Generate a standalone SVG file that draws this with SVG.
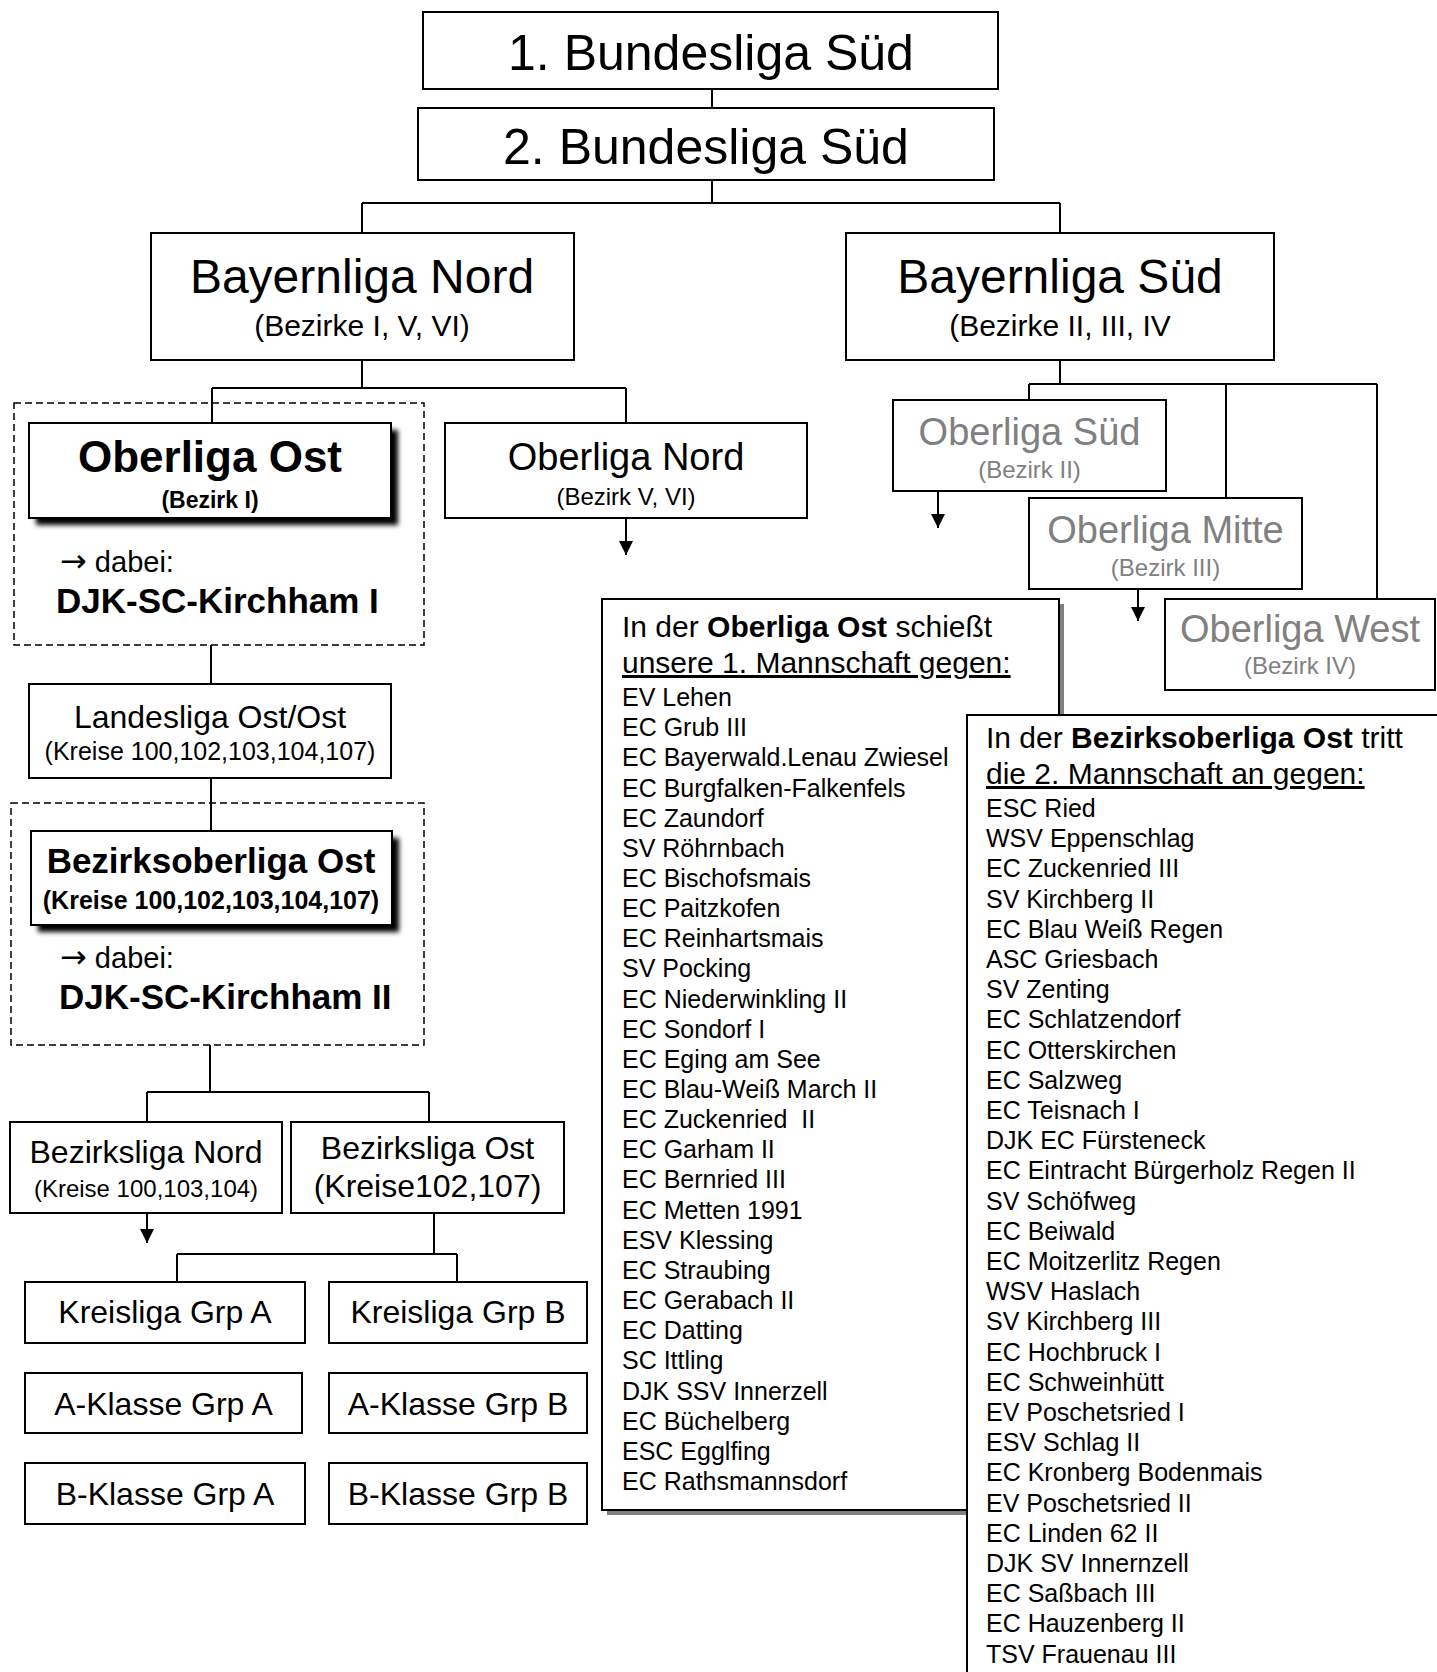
<svg xmlns="http://www.w3.org/2000/svg" width="1437" height="1672" viewBox="0 0 1437 1672">
<defs>
<style>
text { font-family: "Liberation Sans", Arial, sans-serif; fill: #000; }
.c { text-anchor: middle; }
.b { font-weight: bold; }
.g { fill: #808080; }
.ar { font-family: "DejaVu Sans", sans-serif; font-size: 32px; }
.box { fill: #fff; stroke: #000; stroke-width: 2; }
.dash { fill: none; stroke: #000; stroke-width: 1.5; stroke-dasharray: 7 4; }
.ln { fill: none; stroke: #000; stroke-width: 2; }
.shd { fill: #000; filter: url(#blur); }
.gshd { fill: #808080; }
.h1 { font-size: 50px; }
.h2 { font-size: 48px; }
.s30 { font-size: 30px; }
.s38 { font-size: 38px; }
.s32 { font-size: 32px; }
.s25 { font-size: 25px; }
.s24 { font-size: 24px; }
.li { font-size: 25px; }
</style>
<filter id="blur" x="-10%" y="-20%" width="120%" height="140%">
<feGaussianBlur stdDeviation="2.5"/>
</filter>
<marker id="arr" markerUnits="userSpaceOnUse" markerWidth="14" markerHeight="14" refX="14" refY="7" orient="auto" viewBox="0 0 14 14">
<path d="M0,0 L14,7 L0,14 z" fill="#000"/>
</marker>
</defs>
<rect width="1437" height="1672" fill="#fff"/>

<g id="connectors">
<path class="ln" d="M712,89 V108"/>
<path class="ln" d="M712,180 V203 M362,203 H1060 M362,203 V233 M1060,203 V233"/>
<path class="ln" d="M362,360 V388 M212,388 H626 M212,388 V423 M626,388 V423"/>
<path class="ln" d="M626,518 V555" marker-end="url(#arr)"/>
<path class="ln" d="M1060,360 V384 M1029,384 H1377 M1029,384 V400 M1226,384 V498 M1377,384 V599"/>
<path class="ln" d="M938,491 V528" marker-end="url(#arr)"/>
<path class="ln" d="M1138,589 V621" marker-end="url(#arr)"/>
<path class="ln" d="M211,645 V684 M211,778 V831"/>
<path class="ln" d="M210,1045 V1092 M147,1092 H429 M147,1092 V1122 M429,1092 V1122"/>
<path class="ln" d="M147,1213 V1243" marker-end="url(#arr)"/>
<path class="ln" d="M434,1213 V1254 M177,1254 H457 M177,1254 V1282 M457,1254 V1282"/>
</g>

<g id="bundesliga1">
<rect class="box" x="423" y="12" width="575" height="77"/>
<text class="c h1" x="711" y="70">1. Bundesliga Süd</text>
</g>
<g id="bundesliga2">
<rect class="box" x="418" y="108" width="576" height="72"/>
<text class="c h1" x="706" y="164">2. Bundesliga Süd</text>
</g>

<g id="bayernliga-nord">
<rect class="box" x="151" y="233" width="423" height="127"/>
<text class="c h2" x="362" y="293">Bayernliga Nord</text>
<text class="c s30" x="362" y="336">(Bezirke I, V, VI)</text>
</g>
<g id="bayernliga-sued">
<rect class="box" x="846" y="233" width="428" height="127"/>
<text class="c h2" x="1060" y="293">Bayernliga Süd</text>
<text class="c s30" x="1060" y="336">(Bezirke II, III, IV</text>
</g>

<g id="oberliga-ost">
<rect class="dash" x="14" y="403" width="410" height="242"/>
<rect class="shd" x="36" y="430" width="362" height="95"/>
<rect class="box" x="29" y="423" width="362" height="95"/>
<text class="c b" x="210" y="472" font-size="44">Oberliga Ost</text>
<text class="c b" x="210" y="508" font-size="23">(Bezirk I)</text>
<text x="60" y="572" font-size="29"><tspan class="ar">→</tspan> dabei:</text>
<text class="b" x="56" y="613" font-size="35">DJK-SC-Kirchham I</text>
</g>

<g id="oberliga-nord">
<rect class="box" x="445" y="423" width="362" height="95"/>
<text class="c s38" x="626" y="470">Oberliga Nord</text>
<text class="c s24" x="626" y="505">(Bezirk V, VI)</text>
</g>

<g id="oberliga-sued">
<rect class="box" x="893" y="400" width="273" height="91"/>
<text class="c s38 g" x="1029.5" y="445">Oberliga Süd</text>
<text class="c s24 g" x="1029.5" y="478">(Bezirk II)</text>
</g>
<g id="oberliga-mitte">
<rect class="box" x="1029" y="498" width="273" height="91"/>
<text class="c s38 g" x="1165.5" y="543">Oberliga Mitte</text>
<text class="c s24 g" x="1165.5" y="576">(Bezirk III)</text>
</g>
<g id="oberliga-west">
<rect class="box" x="1165" y="599" width="270" height="91"/>
<text class="c s38 g" x="1300" y="642">Oberliga West</text>
<text class="c s24 g" x="1300" y="674">(Bezirk IV)</text>
</g>

<g id="landesliga">
<rect class="box" x="29" y="684" width="362" height="94"/>
<text class="c s32" x="210" y="728">Landesliga Ost/Ost</text>
<text class="c s25" x="210" y="760">(Kreise 100,102,103,104,107)</text>
</g>

<g id="bezirksoberliga-ost">
<rect class="dash" x="11" y="803" width="413" height="242"/>
<rect class="shd" x="38" y="838" width="361" height="94"/>
<rect class="box" x="31" y="831" width="361" height="94"/>
<text class="c b" x="211" y="873" font-size="35">Bezirksoberliga Ost</text>
<text class="c b" x="211" y="909" font-size="25">(Kreise 100,102,103,104,107)</text>
<text x="60" y="968" font-size="29"><tspan class="ar">→</tspan> dabei:</text>
<text class="b" x="59" y="1009" font-size="35">DJK-SC-Kirchham II</text>
</g>

<g id="bezirksliga-nord">
<rect class="box" x="10" y="1122" width="272" height="91"/>
<text class="c s32" x="146" y="1163">Bezirksliga Nord</text>
<text class="c s24" x="146" y="1197">(Kreise 100,103,104)</text>
</g>
<g id="bezirksliga-ost">
<rect class="box" x="291" y="1122" width="273" height="91"/>
<text class="c s32" x="427.5" y="1159">Bezirksliga Ost</text>
<text class="c s32" x="427.5" y="1197">(Kreise102,107)</text>
</g>

<g id="kreisliga-a"><rect class="box" x="25" y="1282" width="280" height="61"/><text class="c s32" x="165" y="1323">Kreisliga Grp A</text></g>
<g id="kreisliga-b"><rect class="box" x="329" y="1282" width="258" height="61"/><text class="c s32" x="458" y="1323">Kreisliga Grp B</text></g>
<g id="aklasse-a"><rect class="box" x="25" y="1373" width="277" height="60"/><text class="c s32" x="163.5" y="1415">A-Klasse Grp A</text></g>
<g id="aklasse-b"><rect class="box" x="329" y="1373" width="258" height="60"/><text class="c s32" x="458" y="1415">A-Klasse Grp B</text></g>
<g id="bklasse-a"><rect class="box" x="25" y="1463" width="280" height="61"/><text class="c s32" x="165" y="1505">B-Klasse Grp A</text></g>
<g id="bklasse-b"><rect class="box" x="329" y="1463" width="258" height="61"/><text class="c s32" x="458" y="1505">B-Klasse Grp B</text></g>

<g id="liste-oberliga">
<rect class="gshd" x="607" y="604" width="457" height="911"/>
<rect class="box" x="602" y="599" width="457" height="911"/>
<text class="s30" x="622" y="637">In der <tspan class="b">Oberliga Ost</tspan> schießt</text>
<text class="s30" x="622" y="673" text-decoration="underline">unsere 1. Mannschaft gegen:</text>
<text class="li" x="622" y="706">EV Lehen</text>
<text class="li" x="622" y="736.2">EC Grub III</text>
<text class="li" x="622" y="766.3">EC Bayerwald.Lenau Zwiesel</text>
<text class="li" x="622" y="796.5">EC Burgfalken-Falkenfels</text>
<text class="li" x="622" y="826.6">EC Zaundorf</text>
<text class="li" x="622" y="856.8">SV Röhrnbach</text>
<text class="li" x="622" y="886.9">EC Bischofsmais</text>
<text class="li" x="622" y="917.1">EC Paitzkofen</text>
<text class="li" x="622" y="947.2">EC Reinhartsmais</text>
<text class="li" x="622" y="977.4">SV Pocking</text>
<text class="li" x="622" y="1007.5">EC Niederwinkling II</text>
<text class="li" x="622" y="1037.7">EC Sondorf I</text>
<text class="li" x="622" y="1067.8">EC Eging am See</text>
<text class="li" x="622" y="1098">EC Blau-Weiß March II</text>
<text class="li" x="622" y="1128.1" xml:space="preserve">EC Zuckenried  II</text>
<text class="li" x="622" y="1158.3">EC Garham II</text>
<text class="li" x="622" y="1188.4">EC Bernried III</text>
<text class="li" x="622" y="1218.6">EC Metten 1991</text>
<text class="li" x="622" y="1248.7">ESV Klessing</text>
<text class="li" x="622" y="1278.9">EC Straubing</text>
<text class="li" x="622" y="1309">EC Gerabach II</text>
<text class="li" x="622" y="1339.2">EC Datting</text>
<text class="li" x="622" y="1369.3">SC Ittling</text>
<text class="li" x="622" y="1399.5">DJK SSV Innerzell</text>
<text class="li" x="622" y="1429.6">EC Büchelberg</text>
<text class="li" x="622" y="1459.8">ESC Egglfing</text>
<text class="li" x="622" y="1489.9">EC Rathsmannsdorf</text>
</g>

<g id="liste-bezirksoberliga">
<rect class="gshd" x="972" y="720" width="480" height="1000"/>
<rect class="box" x="967" y="715" width="480" height="1000"/>
<text class="s30" x="986" y="748">In der <tspan class="b">Bezirksoberliga Ost</tspan> tritt</text>
<text class="s30" x="986" y="784" text-decoration="underline">die 2. Mannschaft an gegen:</text>
<text class="li" x="986" y="817">ESC Ried</text>
<text class="li" x="986" y="847.2">WSV Eppenschlag</text>
<text class="li" x="986" y="877.4">EC Zuckenried III</text>
<text class="li" x="986" y="907.6">SV Kirchberg II</text>
<text class="li" x="986" y="937.8">EC Blau Weiß Regen</text>
<text class="li" x="986" y="968">ASC Griesbach</text>
<text class="li" x="986" y="998.2">SV Zenting</text>
<text class="li" x="986" y="1028.4">EC Schlatzendorf</text>
<text class="li" x="986" y="1058.6">EC Otterskirchen</text>
<text class="li" x="986" y="1088.8">EC Salzweg</text>
<text class="li" x="986" y="1119">EC Teisnach I</text>
<text class="li" x="986" y="1149.2">DJK EC Fürsteneck</text>
<text class="li" x="986" y="1179.4">EC Eintracht Bürgerholz Regen II</text>
<text class="li" x="986" y="1209.6">SV Schöfweg</text>
<text class="li" x="986" y="1239.8">EC Beiwald</text>
<text class="li" x="986" y="1270">EC Moitzerlitz Regen</text>
<text class="li" x="986" y="1300.2">WSV Haslach</text>
<text class="li" x="986" y="1330.4">SV Kirchberg III</text>
<text class="li" x="986" y="1360.6">EC Hochbruck I</text>
<text class="li" x="986" y="1390.8">EC Schweinhütt</text>
<text class="li" x="986" y="1421">EV Poschetsried I</text>
<text class="li" x="986" y="1451.2">ESV Schlag II</text>
<text class="li" x="986" y="1481.4">EC Kronberg Bodenmais</text>
<text class="li" x="986" y="1511.6">EV Poschetsried II</text>
<text class="li" x="986" y="1541.8">EC Linden 62 II</text>
<text class="li" x="986" y="1572">DJK SV Innernzell</text>
<text class="li" x="986" y="1602.2">EC Saßbach III</text>
<text class="li" x="986" y="1632.4">EC Hauzenberg II</text>
<text class="li" x="986" y="1662.6">TSV Frauenau III</text>
</g>
</svg>
